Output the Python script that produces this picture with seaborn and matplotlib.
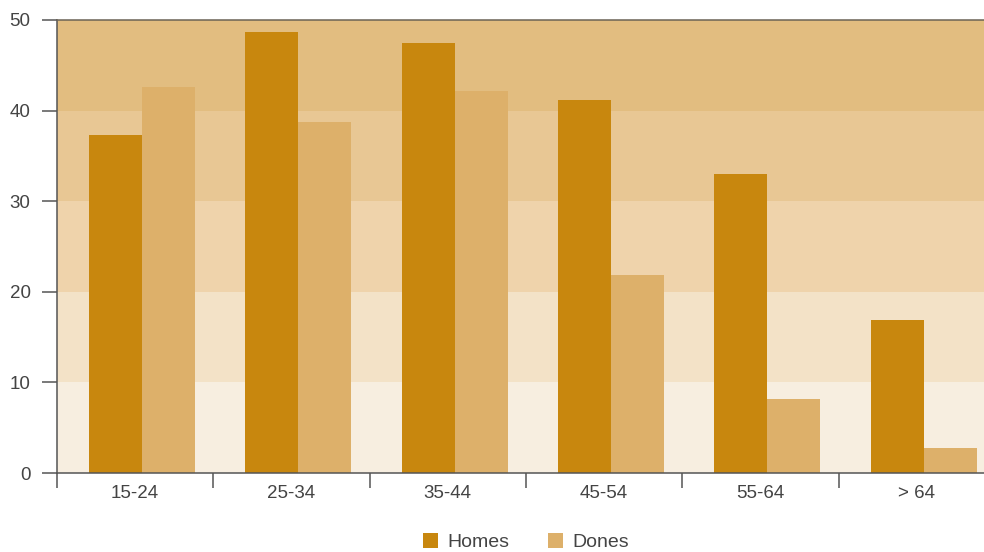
import matplotlib
matplotlib.use("Agg")
import matplotlib.pyplot as plt
import seaborn as sns
import pandas as pd
from matplotlib.ticker import FixedLocator, NullFormatter

# Age groups and values per series
categories = ["15-24", "25-34", "35-44", "45-54", "55-64", "> 64"]
homes = [37.3, 48.7, 47.5, 41.2, 33.0, 16.9]
dones = [42.6, 38.7, 42.2, 21.9, 8.2, 2.8]
series_names = ["Homes", "Dones"]
y_ticks = [0, 10, 20, 30, 40, 50]

bar_colors = ["#C8870E", "#DDB06A"]
band_colors = ["#F7EEE0", "#F3E2C7", "#EFD3AB", "#E8C794", "#E2BD80"]
text_color = "#444444"
spine_color = "#555555"

df = pd.DataFrame({
    "group": categories * 2,
    "value": homes + dones,
    "series": [series_names[0]] * len(categories) + [series_names[1]] * len(categories),
})

sns.set_theme(style="white")
plt.rcParams["font.family"] = ["Liberation Sans", "DejaVu Sans"]

W, H = 984, 552
fig = plt.figure(figsize=(W / 100, H / 100), dpi=100)
left, right, top, bottom = 57, 995, 20, 473
ax = fig.add_axes([left / W, 1 - bottom / H, (right - left) / W, (bottom - top) / H])
ax.set_facecolor("none")

# Horizontal colour bands, one per 10-unit interval
for i, c in enumerate(band_colors):
    ax.axhspan(y_ticks[i], y_ticks[i + 1], color=c, lw=0, zorder=0)

sns.barplot(data=df, x="group", y="value", hue="series", palette=bar_colors,
            saturation=1, width=0.678, ax=ax, zorder=2, errorbar=None,
            linewidth=0, edgecolor="none")

# The bar pairs sit slightly right of the middle of each group slot
shift = 0.043
ax.set_xlim(-0.5 - shift, len(categories) - 0.5 - shift)
ax.set_ylim(0, 50)

# Major x ticks mark group boundaries; labels sit on minor ticks
bounds = [k - 0.5 - shift for k in range(len(categories) + 1)]
ax.xaxis.set_major_locator(FixedLocator(bounds))
ax.xaxis.set_major_formatter(NullFormatter())
ax.xaxis.set_minor_locator(FixedLocator([k - shift for k in range(len(categories))]))
ax.set_xticklabels(categories, minor=True)
ax.tick_params(axis="x", which="major", length=11, width=1.1, color=spine_color, direction="out", bottom=True)
ax.tick_params(axis="x", which="minor", length=0, pad=9, labelsize=13.5, labelcolor=text_color)

ax.set_yticks(y_ticks)
ax.tick_params(axis="y", which="major", length=11, width=1.1, color=spine_color, pad=8,
               labelsize=13.5, labelcolor=text_color, left=True)

ax.set_xlabel("")
ax.set_ylabel("")
ax.grid(False)

for side in ["left", "bottom", "top"]:
    ax.spines[side].set_visible(True)
    ax.spines[side].set_color(spine_color)
    ax.spines[side].set_linewidth(1.1)
ax.spines["right"].set_visible(False)
ax.spines["top"].set_color("#6b6356")

handles, labels = ax.get_legend_handles_labels()
if ax.get_legend() is not None:
    ax.get_legend().remove()
for h in handles:
    h.set_linewidth(0)
leg = ax.legend(handles, labels, loc="center", bbox_to_anchor=(0.5, -0.153), ncol=2,
                frameon=False, handlelength=0.75, handleheight=0.75, handletextpad=0.5,
                columnspacing=2.0, fontsize=14, borderpad=0.2)
for t in leg.get_texts():
    t.set_color(text_color)

fig.savefig("out.png", dpi=100)
